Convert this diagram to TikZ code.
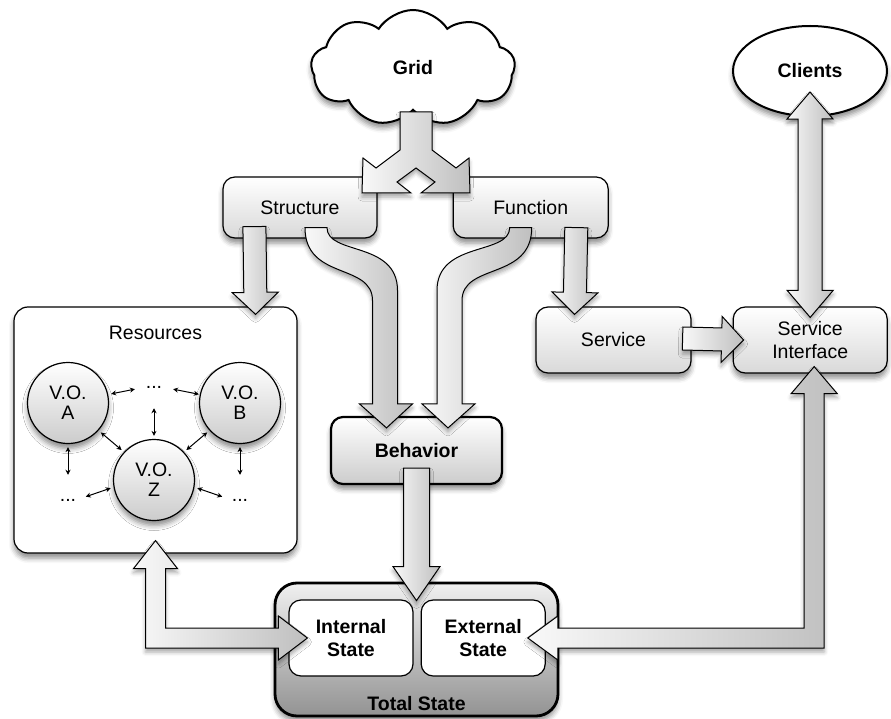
\documentclass[tikz,border=0pt]{standalone}
\usepackage{fontspec}
\setmainfont{Liberation Sans}
\usepackage{tikz}
\usetikzlibrary{arrows.meta,positioning,calc,shapes.geometric,shapes.symbols,shadows.blur}

\tikzset{
  arrow stem/.store in=\arstem, arrow head/.store in=\arhead, arrow len/.store in=\arlen,
  arrow stem=11.5pt, arrow head=23pt, arrow len=22pt
}

\begin{document}
\begin{tikzpicture}[x=1pt,y=-1pt,font=\fontsize{19.5}{23.5}\selectfont,
  boldlabel/.style={font=\fontsize{19.5}{23.5}\selectfont\bfseries},
  softshadow/.style={blur shadow={shadow xshift=0pt,shadow yshift=-5pt,shadow blur radius=5pt,shadow opacity=45}},
  box/.style={draw,line width=1.2pt,rounded corners=12pt,top color=white,bottom color=gray!30,
              softshadow,align=center,inner sep=0pt},
  vo/.style={circle,draw,line width=1.2pt,top color=white,bottom color=gray!40,minimum size=81pt,
             softshadow,align=center,inner sep=0pt,font=\fontsize{19.5}{20}\selectfont},
  statebox/.style={draw,line width=1.2pt,rounded corners=12pt,fill=white,align=center,
                   minimum width=124pt,minimum height=76pt,boldlabel},
  dots/.style={inner sep=0pt},
  link/.style={{Stealth[length=5pt,width=5pt]}-{Stealth[length=5pt,width=5pt]},line width=1pt},
  fatarrow/.style={draw,line width=1pt,left color=gray!5,right color=gray!50,
                   blur shadow={shadow xshift=0pt,shadow yshift=-4pt,shadow blur radius=4pt,shadow opacity=35}},
  fat/.style={fatarrow,to path={
    let \p1=(\tikztostart), \p2=(\tikztotarget),
        \n1={atan2(\y2-\y1,\x2-\x1)}, \n2={veclen(\x2-\x1,\y2-\y1)} in
    ($(\p1)+({\n1+90}:\arstem)$)
    -- ($(\p1)+(\n1:\n2-\arlen)+({\n1+90}:\arstem)$)
    -- ($(\p1)+(\n1:\n2-\arlen)+({\n1+90}:\arhead)$)
    -- (\p2)
    -- ($(\p1)+(\n1:\n2-\arlen)+({\n1-90}:\arhead)$)
    -- ($(\p1)+(\n1:\n2-\arlen)+({\n1-90}:\arstem)$)
    -- ($(\p1)+({\n1-90}:\arstem)$) -- cycle}},
  fatboth/.style={fatarrow,to path={
    let \p1=(\tikztostart), \p2=(\tikztotarget),
        \n1={atan2(\y2-\y1,\x2-\x1)}, \n2={veclen(\x2-\x1,\y2-\y1)} in
    (\p1)
    -- ($(\p1)+(\n1:\arlen)+({\n1+90}:\arhead)$)
    -- ($(\p1)+(\n1:\arlen)+({\n1+90}:\arstem)$)
    -- ($(\p1)+(\n1:\n2-\arlen)+({\n1+90}:\arstem)$)
    -- ($(\p1)+(\n1:\n2-\arlen)+({\n1+90}:\arhead)$)
    -- (\p2)
    -- ($(\p1)+(\n1:\n2-\arlen)+({\n1-90}:\arhead)$)
    -- ($(\p1)+(\n1:\n2-\arlen)+({\n1-90}:\arstem)$)
    -- ($(\p1)+(\n1:\arlen)+({\n1-90}:\arstem)$)
    -- ($(\p1)+(\n1:\arlen)+({\n1-90}:\arhead)$) -- cycle}}]
\useasboundingbox (0,0) rectangle (891,719);

% top row
\node[cloud,cloud puffs=9,cloud puff arc=115,aspect=1.8,draw,line width=2pt,fill=white,softshadow,
      minimum width=204pt,minimum height=116pt,boldlabel] (grid) at (413,68) {Grid};
\node[ellipse,draw,line width=2pt,fill=white,softshadow,minimum width=154pt,minimum height=90pt,
      boldlabel] (clients) at (810,71) {Clients};
\node[box,minimum width=154pt,minimum height=61pt] (structure) at (300,207.5) {Structure};
\node[box,minimum width=155pt,minimum height=61pt,right=75pt of structure] (function) {Function};

% middle row
\node[draw,line width=1.2pt,rounded corners=14pt,fill=white,softshadow,
      minimum width=283pt,minimum height=246pt] (resources) at (155.5,430) {};
\node (restitle) at ([yshift=-26pt]resources.north) {Resources};
\node[box,minimum width=155pt,minimum height=66pt] (service) at (613.5,340) {Service};
\node[box,minimum width=154pt,minimum height=66pt,right=41pt of service] (si) {Service\\Interface};
\node[box,line width=2.2pt,bottom color=gray!40,minimum width=171pt,minimum height=67pt,
      boldlabel] (behavior) at (416.5,450.5) {Behavior};

% virtual organisations
\node[vo] (voA) at (68,403) {V.O.\\A};
\node[vo] (voB) at (240,403) {V.O.\\B};
\node[vo] (voZ) at (154,480) {V.O.\\Z};
\node[dots] (dotsT) at (154,387) {...};
\node[dots] (dotsL) at (68,500) {...};
\node[dots] (dotsR) at (240,500) {...};
\draw[link,shorten <=3pt,shorten >=11pt] (voA.12) -- (dotsT.west);
\draw[link,shorten <=11pt,shorten >=1pt] (dotsT.east) -- (voB.168);
\draw[link,shorten <=20pt,shorten >=3pt] (dotsT.south) -- (voZ.north);
\draw[link,shorten <=3pt,shorten >=3pt] (voA.-42) -- (voZ.137);
\draw[link,shorten <=3pt,shorten >=3pt] (voB.-138) -- (voZ.43);
\draw[link,shorten <=3pt,shorten >=24pt] (voA.south) -- (dotsL.north);
\draw[link,shorten <=3pt,shorten >=24pt] (voB.south) -- (dotsR.north);
\draw[link,shorten <=3pt,shorten >=10pt] (voZ.190) -- (dotsL.east);
\draw[link,shorten <=3pt,shorten >=10pt] (voZ.-10) -- (dotsR.west);

% state
\node[draw,line width=2.8pt,rounded corners=22pt,top color=gray!12,bottom color=gray!85,softshadow,
      minimum width=283pt,minimum height=133pt] (total) at (416.5,649.5) {};
\node[boldlabel] (totaltitle) at ([yshift=14pt]total.south) {Total State};
\node[statebox] (internal) at (351,638) {Internal\\State};
\node[statebox,right=7pt of internal] (external) {External\\State};

% block arrows
\draw[fatarrow] let \p1=([xshift=3pt,yshift=-44pt]grid.center) in
  ({\x1-16pt},\y1) -- ({\x1-16pt},{\y1-38pt}) -- ({\x1-40pt},{\y1-56pt}) -- ({\x1-53pt},{\y1-46pt})
  -- ({\x1-54pt},{\y1-81pt}) -- ({\x1-5pt},{\y1-81pt}) -- ({\x1-19pt},{\y1-70pt}) -- (\x1,{\y1-56pt})
  -- ({\x1+19pt},{\y1-70pt}) -- ({\x1+5pt},{\y1-81pt}) -- ({\x1+54pt},{\y1-81pt}) -- ({\x1+53pt},{\y1-46pt})
  -- ({\x1+40pt},{\y1-56pt}) -- ({\x1+16pt},{\y1-38pt}) -- ({\x1+16pt},\y1) -- cycle;
\draw[fat] ([xshift=32pt,yshift=12pt]structure.south west) to ([xshift=-42pt,yshift=-8pt]resources.north east);
\draw[fat] ([xshift=-32.5pt,yshift=11pt]function.south east) to ([xshift=-39pt,yshift=-8pt]service.north);
\draw[fat] ([xshift=-9pt,yshift=1.5pt]service.east) to ([xshift=11pt]si.west);
\draw[fatboth,arrow stem=12pt,arrow len=27pt] ([yshift=25pt]clients.south) to ([yshift=-11pt]si.north);
\draw[fat,arrow stem=13pt,arrow head=23.5pt,arrow len=34pt] ([yshift=17pt]behavior.south) to ([yshift=-19pt]total.north);

\draw[fatarrow] let \p1=([xshift=16pt,yshift=11pt]structure.south), \p2=([xshift=-30pt,yshift=-12pt]behavior.north) in
  ({\x1-11pt},\y1) .. controls ({\x1-11pt},{\y1-53pt}) and ({\x2-14pt},{\y1-35pt}) .. ({\x2-14pt},{\y1-73pt})
  -- ({\x2-14pt},{\y2+24pt}) -- ({\x2-27pt},{\y2+24pt}) -- (\p2) -- ({\x2+26pt},{\y2+24pt}) -- ({\x2+11pt},{\y2+24pt})
  -- ({\x2+11pt},{\y1-63pt}) .. controls ({\x2+11pt},{\y1-13pt}) and ({\x1+11pt},{\y1-28pt}) .. ({\x1+11pt},\y1) -- cycle;
\draw[fatarrow] let \p1=([xshift=-10pt,yshift=11pt]function.south), \p2=([xshift=31.5pt,yshift=-12pt]behavior.north) in
  ({\x1+11pt},\y1) .. controls ({\x1+11pt},{\y1-53pt}) and ({\x2+14pt},{\y1-35pt}) .. ({\x2+14pt},{\y1-73pt})
  -- ({\x2+14pt},{\y2+24pt}) -- ({\x2+27pt},{\y2+24pt}) -- (\p2) -- ({\x2-26pt},{\y2+24pt}) -- ({\x2-11pt},{\y2+24pt})
  -- ({\x2-11pt},{\y1-63pt}) .. controls ({\x2-11pt},{\y1-13pt}) and ({\x1-11pt},{\y1-28pt}) .. ({\x1-11pt},\y1) -- cycle;

\draw[fatarrow] let \p1=([yshift=13pt]resources.south), \p2=([xshift=19pt]internal.west) in
  (\p1) -- ({\x1+22pt},{\y1-28pt}) -- ({\x1+10pt},{\y1-28pt}) -- ({\x1+10pt},{\y2+10pt})
  -- ({\x2-29pt},{\y2+10pt}) -- ({\x2-29pt},{\y2+22pt}) -- (\p2)
  -- ({\x2-29pt},{\y2-22pt}) -- ({\x2-29pt},{\y2-10pt}) -- ({\x1-10pt},{\y2-10pt})
  -- ({\x1-10pt},{\y1-28pt}) -- ({\x1-22pt},{\y1-28pt}) -- cycle;
\draw[fatarrow] let \p1=([xshift=4pt,yshift=7pt]si.south), \p2=([xshift=-18pt]external.east) in
  (\p1) -- ({\x1+23pt},{\y1-27pt}) -- ({\x1+10pt},{\y1-27pt}) -- ({\x1+10pt},{\y2-10pt})
  -- ({\x2+30pt},{\y2-10pt}) -- ({\x2+30pt},{\y2-22pt}) -- (\p2)
  -- ({\x2+30pt},{\y2+22pt}) -- ({\x2+30pt},{\y2+10pt}) -- ({\x1-10pt},{\y2+10pt})
  -- ({\x1-10pt},{\y1-27pt}) -- ({\x1-23pt},{\y1-27pt}) -- cycle;
\end{tikzpicture}
\end{document}
